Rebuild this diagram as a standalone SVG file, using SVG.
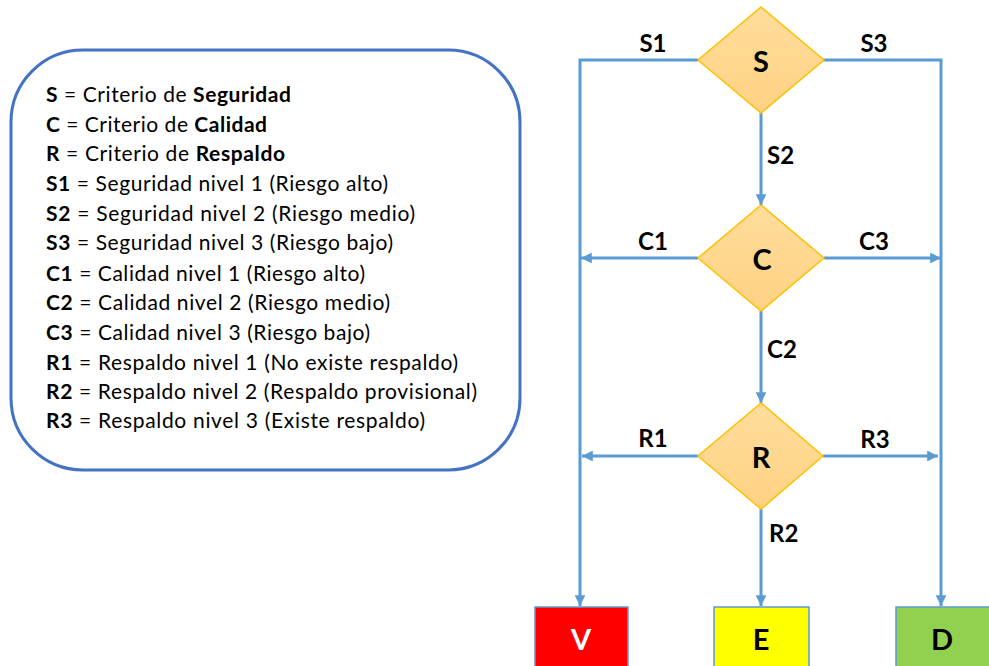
<svg xmlns="http://www.w3.org/2000/svg" width="989" height="666" viewBox="0 0 989 666">
  <defs>
    <linearGradient id="diamondFill" x1="0" y1="0" x2="0" y2="1">
      <stop offset="0" stop-color="#FFDD9C"/>
      <stop offset="1" stop-color="#FFD283"/>
    </linearGradient>
    <marker id="arrow" viewBox="0 0 10 10" refX="10" refY="5" markerWidth="3.6" markerHeight="3.6" orient="auto" markerUnits="strokeWidth">
      <path d="M0,0 L10,5 L0,10 Z" fill="#5B9BD5"/>
    </marker>
    <style>
      .legend { font-family: Lato, "Open Sans", sans-serif; font-size: 21px; fill: #000; }
      .legend .b { font-weight: bold; }
      .lbl { font-family: Lato, "Open Sans", sans-serif; font-size: 24px; font-weight: bold; fill: #000; }
      .big { font-family: Lato, "Open Sans", sans-serif; font-size: 29px; font-weight: bold; fill: #000; text-anchor: middle; }
      .dec { fill: url(#diamondFill); stroke: #FFC000; stroke-width: 1.5; }
      .conn { fill: none; stroke: #5B9BD5; stroke-width: 3; }
      .box { stroke: #5B9BD5; stroke-width: 1.5; }
    </style>
  </defs>

  <!-- legend panel -->
  <g id="legend">
    <rect x="11" y="50" width="509" height="420" rx="72" ry="72" fill="#fff" stroke="#4472C4" stroke-width="3"/>
    <text class="legend" x="46" y="102" textLength="245" lengthAdjust="spacing"><tspan class="b">S</tspan> = Criterio de <tspan class="b">Seguridad</tspan></text>
    <text class="legend" x="46" y="132" textLength="221" lengthAdjust="spacing"><tspan class="b">C</tspan> = Criterio de <tspan class="b">Calidad</tspan></text>
    <text class="legend" x="46" y="161" textLength="239" lengthAdjust="spacing"><tspan class="b">R</tspan> = Criterio de <tspan class="b">Respaldo</tspan></text>
    <text class="legend" x="46" y="191" textLength="342" lengthAdjust="spacing"><tspan class="b">S1</tspan> = Seguridad nivel 1 (Riesgo alto)</text>
    <text class="legend" x="46" y="221" textLength="369" lengthAdjust="spacing"><tspan class="b">S2</tspan> = Seguridad nivel 2 (Riesgo medio)</text>
    <text class="legend" x="46" y="250" textLength="347" lengthAdjust="spacing"><tspan class="b">S3</tspan> = Seguridad nivel 3 (Riesgo bajo)</text>
    <text class="legend" x="46" y="281" textLength="319" lengthAdjust="spacing"><tspan class="b">C1</tspan> = Calidad nivel 1 (Riesgo alto)</text>
    <text class="legend" x="46" y="310" textLength="344" lengthAdjust="spacing"><tspan class="b">C2</tspan> = Calidad nivel 2 (Riesgo medio)</text>
    <text class="legend" x="46" y="340" textLength="324" lengthAdjust="spacing"><tspan class="b">C3</tspan> = Calidad nivel 3 (Riesgo bajo)</text>
    <text class="legend" x="46" y="370" textLength="412" lengthAdjust="spacing"><tspan class="b">R1</tspan> = Respaldo nivel 1 (No existe respaldo)</text>
    <text class="legend" x="46" y="399" textLength="431" lengthAdjust="spacing"><tspan class="b">R2</tspan> = Respaldo nivel 2 (Respaldo provisional)</text>
    <text class="legend" x="46" y="428" textLength="379" lengthAdjust="spacing"><tspan class="b">R3</tspan> = Respaldo nivel 3 (Existe respaldo)</text>
  </g>

  <!-- connectors -->
  <g id="connectors">
    <path class="conn" d="M698,60 H580 V606" marker-end="url(#arrow)"/>
    <path class="conn" d="M823,60 H941 V606" marker-end="url(#arrow)"/>
    <path class="conn" d="M761,113 V205" marker-end="url(#arrow)"/>
    <path class="conn" d="M698,258 H581" marker-end="url(#arrow)"/>
    <path class="conn" d="M824,258 H941" marker-end="url(#arrow)"/>
    <path class="conn" d="M761,311 V403" marker-end="url(#arrow)"/>
    <path class="conn" d="M698,456 H582" marker-end="url(#arrow)"/>
    <path class="conn" d="M823,456 H938" marker-end="url(#arrow)"/>
    <path class="conn" d="M761,509 V606" marker-end="url(#arrow)"/>

    <text class="lbl" x="653" y="52" text-anchor="middle">S1</text>
    <text class="lbl" x="874" y="52" text-anchor="middle">S3</text>
    <text class="lbl" x="767" y="164">S2</text>
    <text class="lbl" x="653" y="250" text-anchor="middle">C1</text>
    <text class="lbl" x="874" y="250" text-anchor="middle">C3</text>
    <text class="lbl" x="767" y="358">C2</text>
    <text class="lbl" x="653" y="447" text-anchor="middle">R1</text>
    <text class="lbl" x="875" y="448" text-anchor="middle">R3</text>
    <text class="lbl" x="769" y="542">R2</text>
  </g>

  <!-- decisions -->
  <g id="node-S">
    <polygon class="dec" points="761,7 824,60 761,113 698,60"/>
    <text class="big" x="761" y="72">S</text>
  </g>
  <g id="node-C">
    <polygon class="dec" points="761,205 824,258 761,311 698,258"/>
    <text class="big" x="762" y="270">C</text>
  </g>
  <g id="node-R">
    <polygon class="dec" points="761,403 823,456 761,509 698,456"/>
    <text class="big" x="761" y="468">R</text>
  </g>

  <!-- outcomes -->
  <g id="node-V">
    <rect class="box" x="535" y="607" width="93" height="70" fill="#FF0000"/>
    <text class="big" x="581" y="650" style="fill:#fff">V</text>
  </g>
  <g id="node-E">
    <rect class="box" x="714" y="607" width="95" height="70" fill="#FFFF00"/>
    <text class="big" x="761" y="650">E</text>
  </g>
  <g id="node-D">
    <rect class="box" x="896" y="607" width="100" height="70" fill="#92D050"/>
    <text class="big" x="942" y="650">D</text>
  </g>
</svg>
